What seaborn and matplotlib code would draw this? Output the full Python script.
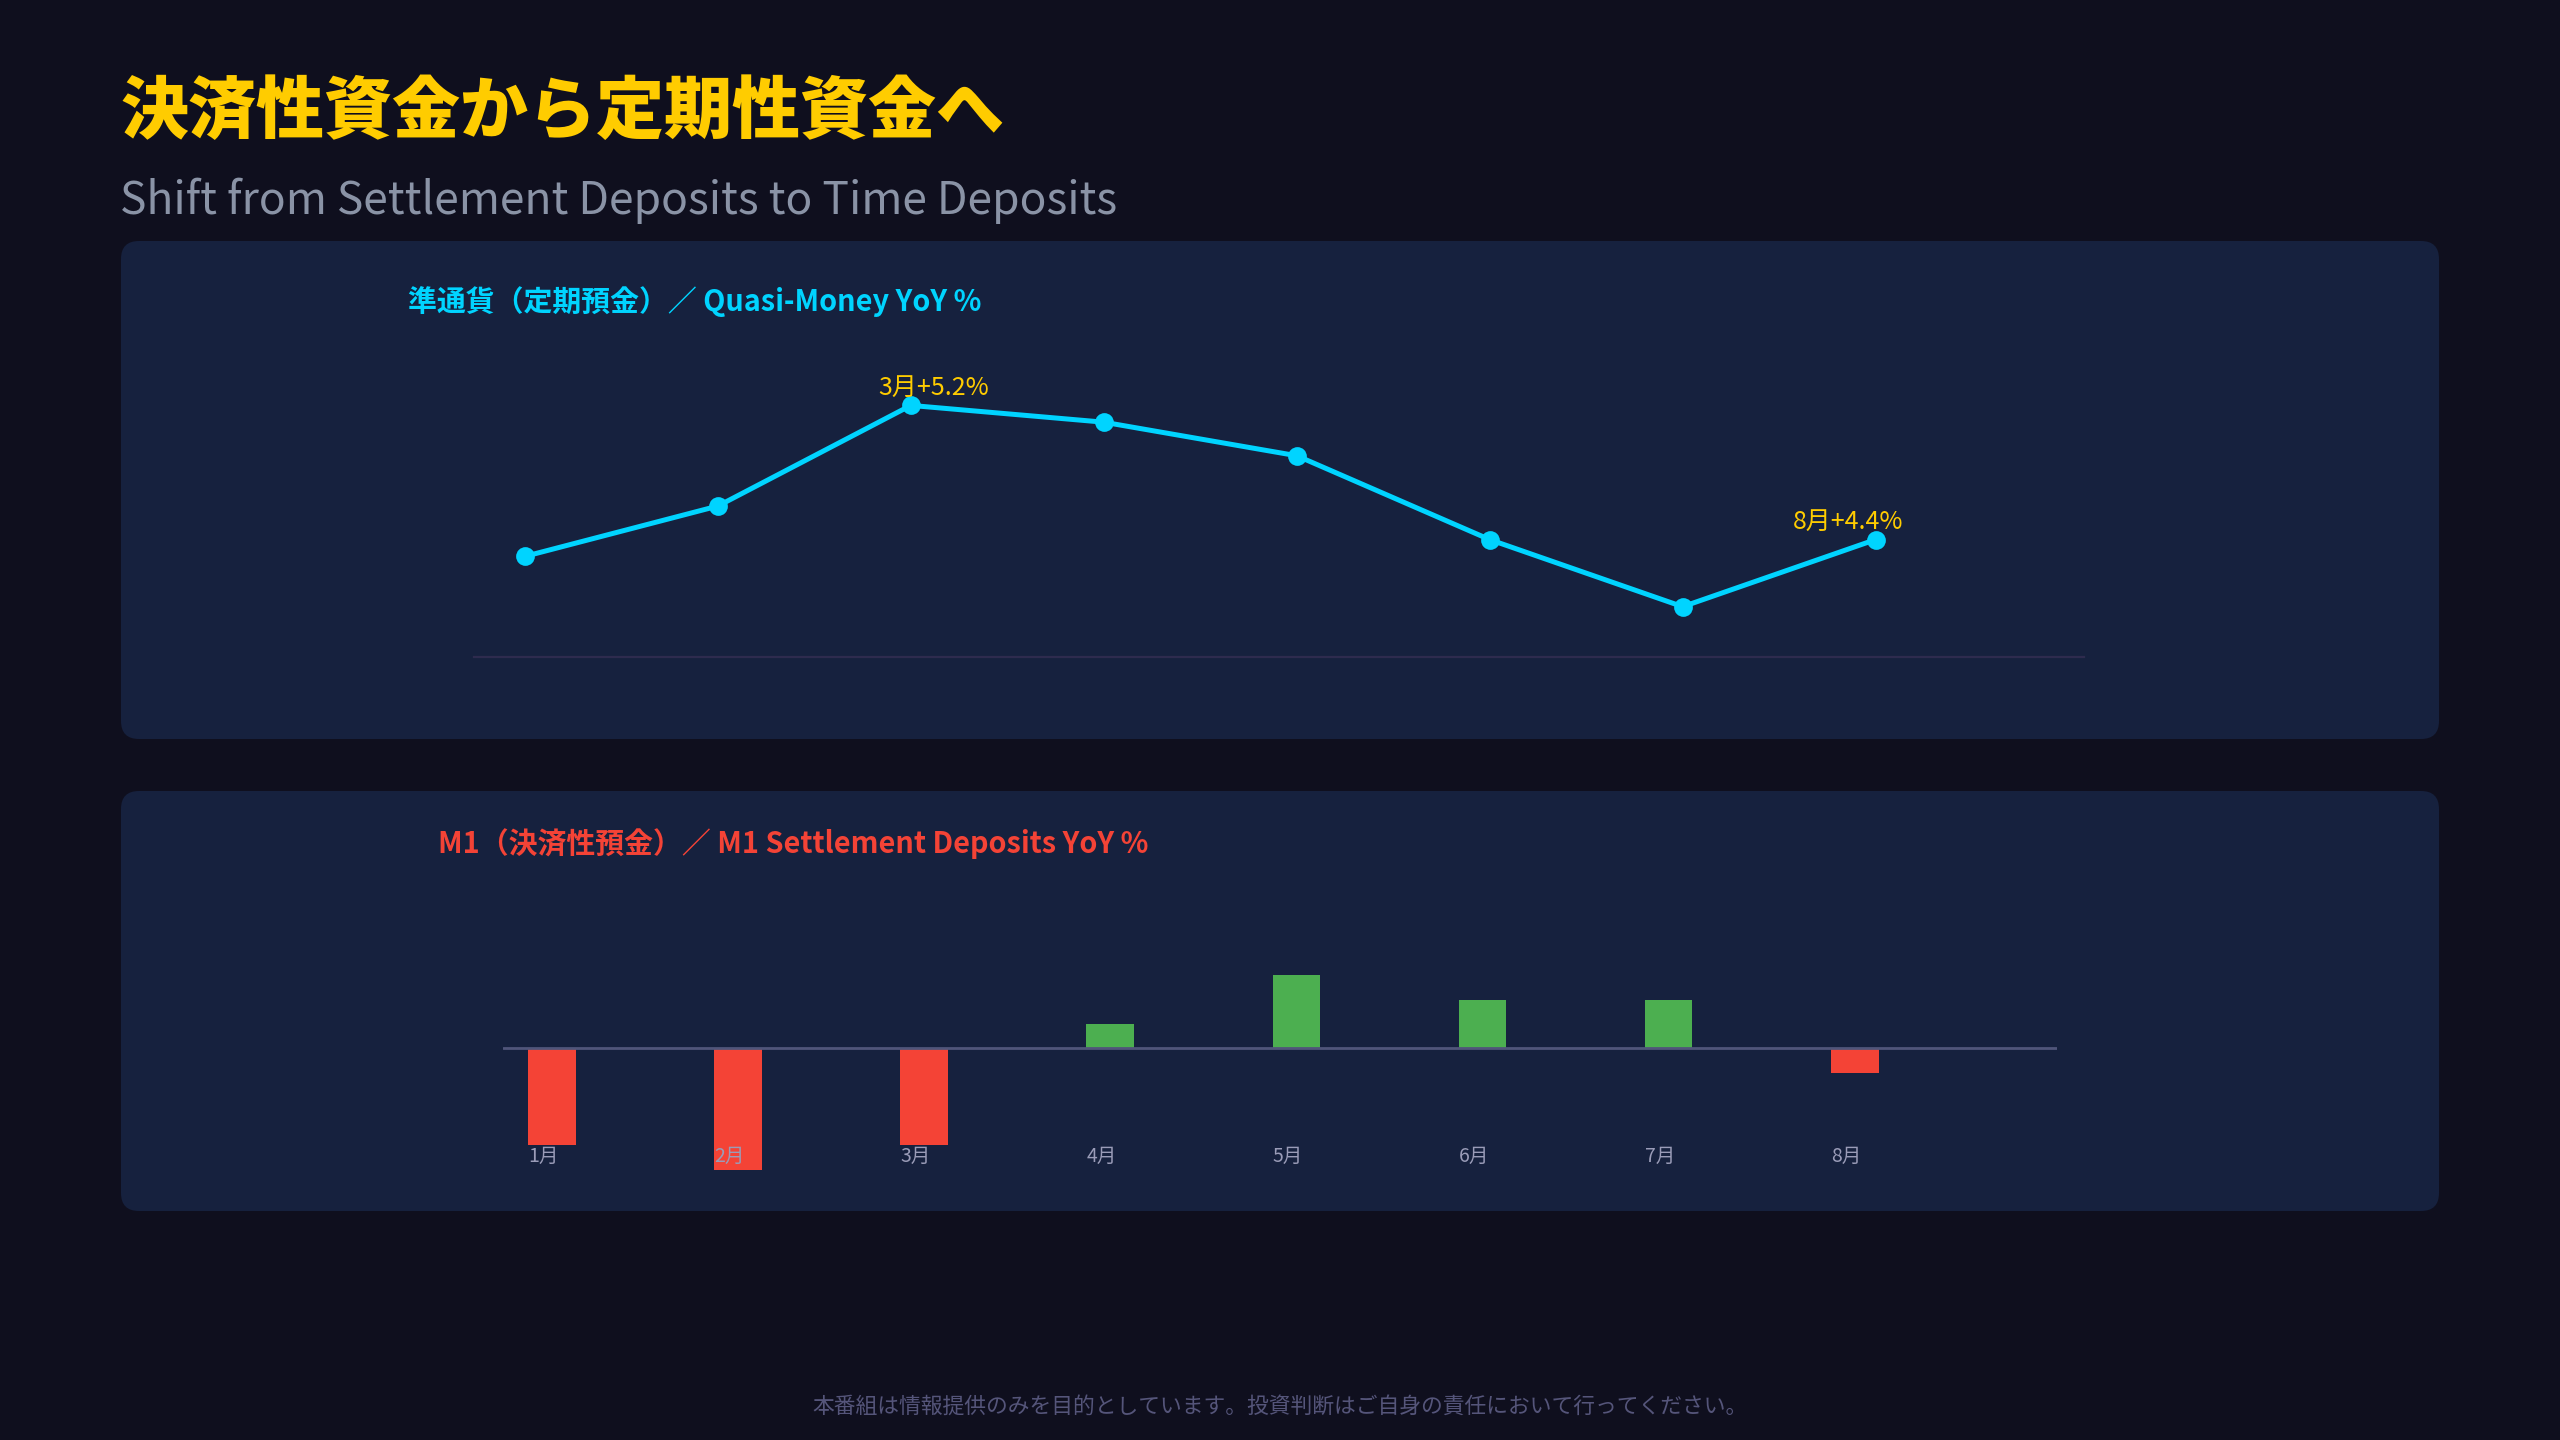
import numpy as np
import matplotlib
matplotlib.use('Agg')
import matplotlib.pyplot as plt
from matplotlib.patches import FancyBboxPatch
import seaborn as sns

# data
months = ['1月', '2月', '3月', '4月', '5月', '6月', '7月', '8月']
quasi_money = [4.3, 4.6, 5.2, 5.1, 4.9, 4.4, 4.0, 4.4]
m1_yoy = [-2.0, -2.5, -2.0, 0.5, 1.5, 1.0, 1.0, -0.5]
highlights = {2: '3月+5.2%', 7: '8月+4.4%'}

title = '決済性資金から定期性資金へ'
subtitle = 'Shift from Settlement Deposits to Time Deposits'
top_title = '準通貨（定期預金）／ Quasi-Money YoY %'
bottom_title = 'M1（決済性預金）／ M1 Settlement Deposits YoY %'
footer = '本番組は情報提供のみを目的としています。投資判断はご自身の責任において行ってください。'

BG = '#0f0f1e'
PANEL = '#16213e'
GOLD = '#ffcc00'
CYAN = '#00d4ff'
RED = '#f44336'
GREEN = '#4caf50'

sns.set_theme(style='white')
plt.rcParams['font.family'] = ['Noto Sans CJK JP', 'DejaVu Sans']

W, H = 2560, 1440
fig = plt.figure(figsize=(25.6, 14.4), dpi=100, facecolor=BG)


def px_axes(x0, y0, x1, y1, z=1):
    return fig.add_axes([x0 / W, 1 - y1 / H, (x1 - x0) / W, (y1 - y0) / H], zorder=z)


# background layer in pixel units
bg = px_axes(0, 0, W, H, z=0)
bg.set_xlim(0, W)
bg.set_ylim(H, 0)
bg.axis('off')

for (y0, y1) in [(241, 739), (791, 1211)]:
    bg.add_patch(FancyBboxPatch((121, y0), 2439 - 121, y1 - y0,
                                boxstyle='round,pad=0,rounding_size=18',
                                facecolor=PANEL, edgecolor='none'))

bg.text(120, 112, title, color=GOLD, fontsize=49, fontweight='black', va='center', ha='left')
bg.text(120, 201, subtitle, color='#8a93a6', fontsize=32, va='center', ha='left')
bg.text(408, 302, top_title, color=CYAN, fontsize=20.8, fontweight='bold', va='center', ha='left')
bg.text(438, 844, bottom_title, color=RED, fontsize=20.8, fontweight='bold', va='center', ha='left')
bg.text(1280, 1407, footer, color='#55557a', fontsize=15.7, va='center', ha='center')

xs = np.arange(len(months))

# top: quasi-money line
ax1 = px_axes(474, 340, 2084, 657, z=2)
ax1.set_facecolor('none')
sns.lineplot(x=xs, y=quasi_money, ax=ax1, color=CYAN, linewidth=3.6,
             marker='o', markersize=13.5, markeredgewidth=0, markerfacecolor=CYAN)
ax1.set_xlim(-0.264, 8.08)
ax1.set_ylim(3.70, 5.59)
for i, lab in highlights.items():
    dx = 23 if i == 2 else -27
    ax1.annotate(lab, (xs[i], quasi_money[i]), xytext=(dx, 18), textcoords='offset pixels',
                 color=GOLD, fontsize=18, ha='center', va='center')
for s in ['top', 'left', 'right']:
    ax1.spines[s].set_visible(False)
ax1.spines['bottom'].set_color('#2e2b4e')
ax1.spines['bottom'].set_linewidth(1.6)
ax1.set_xticks([])
ax1.set_yticks([])

# bottom: M1 bars
ax2 = px_axes(503, 880, 2057, 1140, z=2)
ax2.set_facecolor('none')
bar_colors = [GREEN if v >= 0 else RED for v in m1_yoy]
sns.barplot(x=months, y=m1_yoy, hue=months, palette=bar_colors, legend=False,
            ax=ax2, width=0.256, saturation=1, linewidth=0, edgecolor='none')
for p in ax2.patches:
    p.set_clip_on(False)
ax2.axhline(0, color='#50557a', linewidth=2, zorder=3)
ax2.set_xlim(-0.263, 8.087)
ax2.set_ylim(-1.887, 3.46)
ax2.set_axisbelow(False)
ax2.xaxis.set_zorder(5)
ax2.set_xticks(xs - 0.128)
ax2.set_xticklabels(months, ha='left', color='#9a9cb8', fontsize=14)
ax2.tick_params(axis='x', length=0, pad=4)
ax2.set_yticks([])
ax2.set_xlabel('')
ax2.set_ylabel('')
for s in ax2.spines.values():
    s.set_visible(False)

fig.savefig('out.png', dpi=100, facecolor=BG)
